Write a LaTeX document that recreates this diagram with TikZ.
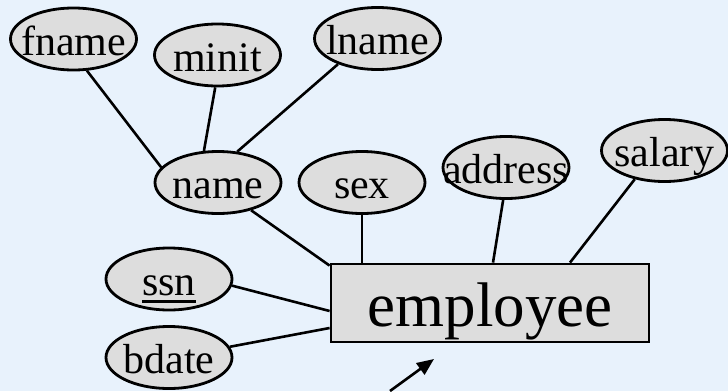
\documentclass[tikz,border=0pt]{standalone}
\usepackage{fontspec}
\setmainfont{Liberation Serif}
\usetikzlibrary{shapes.geometric,arrows.meta}
\definecolor{bgc}{RGB}{232,242,252}
\definecolor{shapefill}{RGB}{221,221,221}
\newcommand\erlabel[2][-16pt]{\raisebox{#1}[0pt][0pt]{\makebox[0pt]{#2}}}
\newcommand\keyul[1]{\setbox0\hbox{#1}\rlap{\rule[-8pt]{\wd0}{3pt}}\box0}
\begin{document}
\begin{tikzpicture}[x=1pt,y=-1pt,
  attr/.style={ellipse, draw, line width=2.8pt, fill=shapefill, minimum width=126pt, minimum height=62pt, inner sep=0pt, font=\fontsize{42}{48}\selectfont},
  entity/.style={rectangle, draw, line width=2.8pt, fill=shapefill, minimum width=318pt, minimum height=78pt, inner sep=0pt, font=\fontsize{63}{70}\selectfont},
  link/.style={line width=2.6pt},
]
\fill[bgc] (0,0) rectangle (728,391);
\useasboundingbox (0,0) rectangle (728,391);

\node[attr] (fname)   at (73.5,39)   {\erlabel{fname}};
\node[attr] (minit)   at (217.5,55)  {\erlabel{minit}};
\node[attr] (lname)   at (377.5,38.5){\erlabel{lname}};
\node[attr] (name)    at (218,182.5) {\erlabel{name}};
\node[attr] (sex)     at (362,182.5) {\erlabel{sex}};
\node[attr] (address) at (506,167.5) {\erlabel{address}};
\node[attr] (salary)  at (664.5,150.5){\erlabel{salary}};
\node[attr] (ssn)     at (169,279)   {\erlabel{\keyul{ssn}}};
\node[attr] (bdate)   at (169,357.5) {\erlabel{bdate}};
\node[entity] (employee) at (490,303) {\erlabel[-23pt]{employee}};

\draw[link] (fname.-67) -- (name.165);
\draw[link] (minit.-94) -- (name.114);
\draw[link] (lname.-147) -- (name.58);
\draw[link] (name.-40) -- ([yshift=-3pt]employee.north west);
\draw[link] (sex.south) -- (sex.south |- employee.north);
\draw[link] (address.-95) -- ([xshift=3pt]employee.north);
\draw[link] (salary.-136) -- ([xshift=80pt]employee.north);
\draw[link] (ssn.-6) -- ([yshift=-8pt]employee.west);
\draw[link] (bdate.10) -- ([yshift=-25pt]employee.west);

\coordinate (ptail) at (390,391);
\coordinate (phead) at (434,359);
\draw[link,-{Triangle[length=17pt,width=14pt]}] (ptail) -- (phead);
\end{tikzpicture}
\end{document}
